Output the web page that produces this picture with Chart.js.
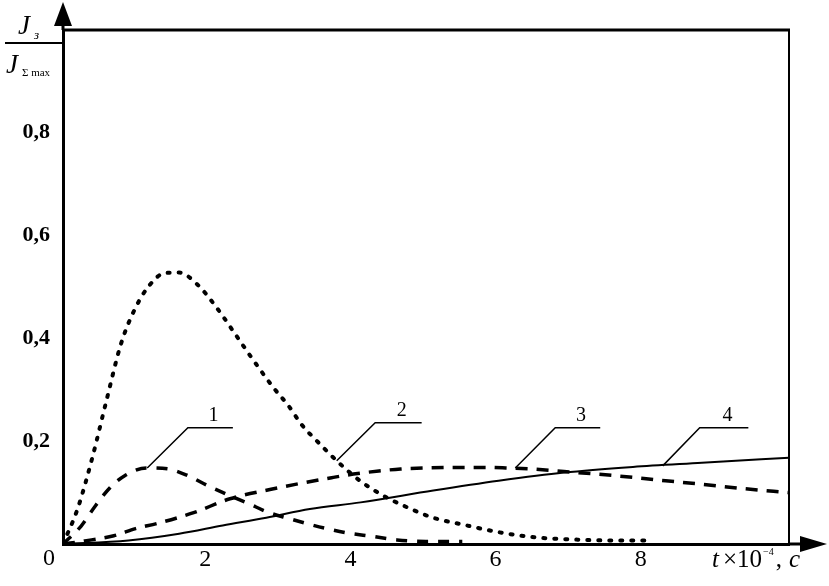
<!DOCTYPE html>
<html lang="ru">
<head>
<meta charset="UTF-8">
<title>Jз / JΣmax</title>
<script src="https://cdn.jsdelivr.net/npm/chart.js"></script>
<style>
    html, body { margin: 0; padding: 0; background: #fff; }
</style>
</head>
<body>
<canvas id="myChart" width="829" height="586"></canvas>
<script>
    // кривая 1 (штрих)
    const x1 = [0, 0.25, 0.45, 0.65, 0.85, 1.15, 1.45, 1.72, 2.0, 2.3, 2.55, 2.82, 3.1, 3.35, 3.6, 3.9, 4.25, 4.6, 5.0, 5.5];
    const y1 = [0, 0.035, 0.075, 0.11, 0.133, 0.148, 0.146, 0.133, 0.113, 0.094, 0.079, 0.062, 0.05, 0.04, 0.031, 0.022, 0.015, 0.008, 0.005, 0.005];
    // кривая 2 (точки)
    const x2 = [0, 0.2, 0.4, 0.6, 0.8, 1.0, 1.2, 1.4, 1.6, 1.85, 2.1, 2.35, 2.6, 2.9, 3.1, 3.3, 3.5, 3.8, 4.1, 4.4, 4.7, 5.1, 5.5, 6.0, 6.5, 7.0, 7.5, 8.1];
    const y2 = [0, 0.068, 0.166, 0.28, 0.39, 0.46, 0.505, 0.527, 0.528, 0.505, 0.463, 0.413, 0.362, 0.304, 0.27, 0.23, 0.2, 0.158, 0.122, 0.095, 0.074, 0.051, 0.038, 0.023, 0.013, 0.009, 0.007, 0.007];
    // кривая 3 (штрих)
    const x3 = [0, 0.3, 0.7, 1.0, 1.3, 1.8, 2.3, 2.85, 3.2, 3.7, 4.0, 4.35, 4.65, 5.0, 5.4, 5.8, 6.1, 6.45, 6.9, 7.6, 8.3, 8.75, 9.35, 10.0];
    const y3 = [0, 0.006, 0.016, 0.03, 0.04, 0.061, 0.088, 0.106, 0.116, 0.129, 0.136, 0.142, 0.146, 0.148, 0.149, 0.149, 0.148, 0.146, 0.141, 0.133, 0.123, 0.117, 0.108, 0.1];
    // кривая 4 (сплошная)
    const x4 = [0, 0.9, 1.6, 2.2, 2.8, 3.4, 4.1, 5.1, 6.0, 6.9, 7.85, 8.8, 10.0];
    const y4 = [0, 0.007, 0.02, 0.036, 0.051, 0.068, 0.081, 0.104, 0.123, 0.139, 0.15, 0.158, 0.168];

    const xTicks = [2, 4, 6, 8];
    const yTicks = [0.2, 0.4, 0.6, 0.8];

    // выноски с номерами кривых (в единицах осей)
    const curveNames = ['1', '2', '3', '4'];
    const tipX = [1.16, 3.77, 6.23, 8.26];
    const tipY = [0.148, 0.162, 0.148, 0.152];
    const kneeX = [1.72, 4.3, 6.78, 8.77];
    const kneeY = [0.226, 0.236, 0.226, 0.226];
    const shelfEndX = [2.34, 4.94, 7.4, 9.44];

    const serif = "'Liberation Serif', 'Times New Roman', serif";

    function pts(xs, ys) {
        return xs.map((x, i) => ({x: x, y: ys[i]}));
    }

    const decor = {
        id: 'decor',
        afterDatasetsDraw(chart) {
            const ctx = chart.ctx;
            const sx = chart.scales.x, sy = chart.scales.y;
            ctx.save();
            ctx.strokeStyle = '#000';
            ctx.fillStyle = '#000';
            ctx.lineWidth = 1.5;
            ctx.font = '20px ' + serif;
            ctx.textAlign = 'center';
            ctx.textBaseline = 'bottom';
            curveNames.forEach((name, i) => {
                const x0 = sx.getPixelForValue(tipX[i]), y0 = sy.getPixelForValue(tipY[i]);
                const xk = sx.getPixelForValue(kneeX[i]), yk = sy.getPixelForValue(kneeY[i]);
                const xe = sx.getPixelForValue(shelfEndX[i]);
                ctx.beginPath();
                ctx.moveTo(x0, y0);
                ctx.lineTo(xk, yk);
                ctx.lineTo(xe, yk);
                ctx.stroke();
                ctx.fillText(name, xk + (xe - xk) * 0.57, yk - 2);
            });
            ctx.restore();
        },
        afterDraw(chart) {
            const ctx = chart.ctx;
            const a = chart.chartArea;
            ctx.save();
            ctx.strokeStyle = '#000';
            ctx.fillStyle = '#000';
            // рамка сверху и справа
            ctx.lineWidth = 3;
            ctx.beginPath();
            ctx.moveTo(a.left, a.top);
            ctx.lineTo(a.right + 1, a.top);
            ctx.stroke();
            ctx.lineWidth = 2;
            ctx.beginPath();
            ctx.moveTo(a.right, a.top);
            ctx.lineTo(a.right, a.bottom);
            ctx.stroke();
            // стрелки осей
            ctx.lineWidth = 3;
            ctx.beginPath();
            ctx.moveTo(a.left, a.top);
            ctx.lineTo(a.left, 20);
            ctx.moveTo(a.right, a.bottom);
            ctx.lineTo(805, a.bottom);
            ctx.stroke();
            ctx.beginPath();
            ctx.moveTo(a.left, 2);
            ctx.lineTo(a.left - 9, 26);
            ctx.lineTo(a.left + 9, 26);
            ctx.closePath();
            ctx.fill();
            ctx.beginPath();
            ctx.moveTo(827, a.bottom);
            ctx.lineTo(800, a.bottom - 8);
            ctx.lineTo(800, a.bottom + 8);
            ctx.closePath();
            ctx.fill();

            // ноль в начале координат
            ctx.textBaseline = 'alphabetic';
            ctx.textAlign = 'center';
            ctx.font = '24px ' + serif;
            ctx.fillText('0', 49, 565);

            // подпись оси x
            ctx.textAlign = 'left';
            let x = 712;
            const base = 567;
            ctx.font = 'italic 25px ' + serif;
            ctx.fillText('t', x, base);
            x += ctx.measureText('t').width + 4;
            ctx.font = '25px ' + serif;
            ctx.fillText('\u00d710', x, base);
            x += ctx.measureText('\u00d710').width + 1;
            ctx.font = '10px ' + serif;
            ctx.fillText('\u22124', x, base - 12);
            x += ctx.measureText('\u22124').width + 2;
            ctx.font = '25px ' + serif;
            ctx.fillText(',', x, base);
            x += ctx.measureText(',').width + 7;
            ctx.font = 'italic 25px ' + serif;
            ctx.fillText('c', x, base);

            // подпись оси y: Jз / JΣmax
            ctx.font = 'italic 27px ' + serif;
            ctx.fillText('J', 18, 34);
            ctx.font = 'italic 13px ' + serif;
            ctx.fillText('\u0437', 34, 39);
            ctx.lineWidth = 2;
            ctx.beginPath();
            ctx.moveTo(5, 43);
            ctx.lineTo(a.left, 43);
            ctx.stroke();
            ctx.font = 'italic 27px ' + serif;
            ctx.fillText('J', 6, 73);
            ctx.font = '11px ' + serif;
            ctx.fillText('\u03a3 max', 22, 76);
            ctx.restore();
        }
    };

    const data = {
        datasets: [{
            label: '1',
            data: pts(x1, y1),
            borderColor: '#000',
            borderWidth: 3.5,
            borderDash: [11, 10]
        }, {
            label: '2',
            data: pts(x2, y2),
            borderColor: '#000',
            borderWidth: 4,
            borderDash: [2, 9],
            borderCapStyle: 'round'
        }, {
            label: '3',
            data: pts(x3, y3),
            borderColor: '#000',
            borderWidth: 3.5,
            borderDash: [12, 9]
        }, {
            label: '4',
            data: pts(x4, y4),
            borderColor: '#000',
            borderWidth: 2
        }]
    };

    const config = {
        type: 'line',
        data: data,
        options: {
            responsive: false,
            animation: false,
            devicePixelRatio: 1,
            layout: {padding: {top: 30, right: 40, left: 0, bottom: 0}},
            elements: {
                point: {radius: 0},
                line: {cubicInterpolationMode: 'monotone', fill: false}
            },
            plugins: {
                legend: {display: false},
                tooltip: {enabled: false}
            },
            scales: {
                x: {
                    type: 'linear',
                    min: 0,
                    max: 10,
                    afterFit: s => { s.height = 42; },
                    afterBuildTicks: s => { s.ticks = xTicks.map(v => ({value: v})); },
                    grid: {display: false, drawTicks: false},
                    border: {display: true, color: '#000', width: 3},
                    ticks: {
                        color: '#000',
                        padding: 1,
                        labelOffset: -3,
                        maxRotation: 0,
                        font: {family: serif, size: 24},
                        callback: v => String(v)
                    }
                },
                y: {
                    min: 0,
                    max: 1,
                    afterFit: s => { s.width = 63; },
                    afterBuildTicks: s => { s.ticks = yTicks.map(v => ({value: v})); },
                    grid: {display: false, drawTicks: false},
                    border: {display: true, color: '#000', width: 3},
                    ticks: {
                        color: '#000',
                        padding: 13,
                        font: {family: serif, size: 22, weight: 'bold'},
                        callback: v => v.toFixed(1).replace('.', ',')
                    }
                }
            }
        },
        plugins: [decor]
    };

    const myChart = new Chart(document.getElementById('myChart'), config);
</script>
</body>
</html>
